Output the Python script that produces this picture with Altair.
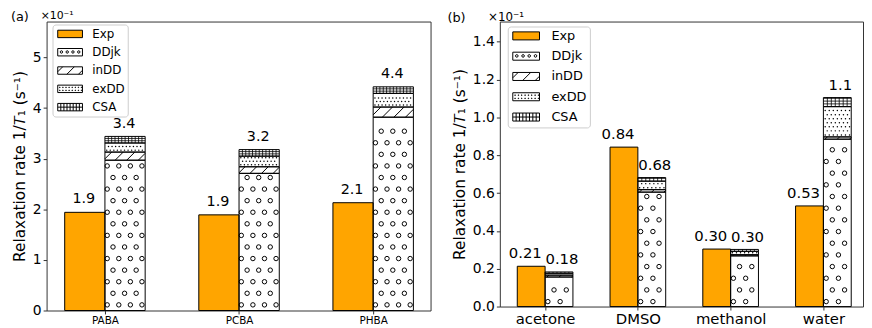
import json
import numpy as np
import pandas as pd
import altair as alt

# ---------------- data (values in units of 1e-1 s^-1) ----------------
cats_a = ["PABA", "PCBA", "PHBA"]
exp_a = [1.94, 1.89, 2.13]
ddjk_a = [2.97, 2.71, 3.82]
indd_a = [0.16, 0.13, 0.20]
exdd_a = [0.18, 0.21, 0.27]
csa_a = [0.13, 0.13, 0.13]

cats_b = ["acetone", "DMSO", "methanol", "water"]
exp_b = [0.213, 0.843, 0.304, 0.532]
ddjk_b = [0.156, 0.605, 0.268, 0.885]
indd_b = [0.010, 0.013, 0.006, 0.012]
exdd_b = [0.010, 0.045, 0.018, 0.160]
csa_b = [0.007, 0.019, 0.010, 0.048]

series = ["Exp", "DDjk", "inDD", "exDD", "CSA"]
yticks_a = [0, 1, 2, 3, 4, 5]
yticks_b = [0.0, 0.2, 0.4, 0.6, 0.8, 1.0, 1.2, 1.4]

FONT = "DejaVu Sans"
ORANGE = "#FFA500"
YTITLE = "Relaxation rate 1/\U0001D447\u2081 (s\u207b\u00b9)"

# ---------------- legend swatch paths ----------------
F = 2.25  # swatch half-width in symbol units
HH = 0.3


def p(v):
    return f"{v * F:.3f}"


def circle_path(x, y, r):
    return f"M{p(x - r)},{p(y)}a{p(r)},{p(r)} 0 1,0 {p(2 * r)},0a{p(r)},{p(r)} 0 1,0 {p(-2 * r)},0"


RECT = f"M{p(-1)},{p(-HH)}H{p(1)}V{p(HH)}H{p(-1)}Z"
PATHS = [
    RECT,
    RECT + "".join(circle_path(x, -0.02, 0.1) for x in (-0.7, -0.23, 0.23, 0.7)),
    RECT + f"M{p(-1)},{p(0.1)}L{p(-0.6)},{p(-0.3)}M{p(-0.26)},{p(0.3)}L{p(0.34)},{p(-0.3)}"
           f"M{p(0.68)},{p(0.3)}L{p(1)},{p(-0.02)}",
    RECT + "".join(f"M{p(x)},{p(y)}h{p(0.04)}v{p(0.04)}h{p(-0.04)}Z" for y in (-0.14, 0.1)
                   for x in (-0.85, -0.6, -0.35, -0.1, 0.15, 0.4, 0.65, 0.9)),
    RECT + "".join(f"M{p(x)},{p(-HH)}V{p(HH)}" for x in (-0.75, -0.5, -0.25, 0.0, 0.25, 0.5, 0.75))
    + f"M{p(-1)},0H{p(1)}",
]
FILLS = [ORANGE, "white", "white", "white", "white"]


def build_rects(exp, ddjk, indd, exdd, csa):
    rects = []
    for i in range(len(exp)):
        rects.append(dict(series="Exp", x=i - 0.3, x2=i, y=0.0, y2=exp[i], color=ORANGE))
        base = 0.0
        for s, v in zip(series[1:], [ddjk[i], indd[i], exdd[i], csa[i]]):
            rects.append(dict(series=s, x=i, x2=i + 0.3, y=base, y2=base + v, color="white"))
            base += v
    return rects


def hatch_data(rects, kx, ky, st):
    circ, dots, segs = [], [], []
    for r in rects:
        L, R = r["x"] * kx, r["x2"] * kx
        B, T = r["y"] * ky, r["y2"] * ky
        w, h = R - L, T - B
        s = r["series"]
        if s == "DDjk":
            sx, sy, rad = st["csx"], st["csy"], st["crad"]
            k = 0
            while B + st["cy0"] + k * sy <= T - rad - 0.5:
                yc = B + st["cy0"] + k * sy
                xc = L + st["cx0"] + (k % 2) * sx / 2
                while xc <= R - rad + 0.5:
                    circ.append({"x": xc / kx, "y": yc / ky})
                    xc += sx
                k += 1
        elif s == "inDD":
            sp = st["lsp"]
            c = st["lx0"] - h / 2
            while c > -h:
                c -= sp
            while c < w:
                t0, t1 = max(0.0, -c), min(h, w - c)
                if t1 > t0:
                    segs.append({"x": (L + c + t0) / kx, "y": (B + t0) / ky,
                                 "x2": (L + c + t1) / kx, "y2": (B + t1) / ky, "sw": 1.0})
                c += sp
        elif s == "exDD":
            d = st["dsp"]
            k = 0
            while B + 2 + k * d <= T - 1.2:
                yc = B + 2 + k * d
                xc = L + 1.8 + (k % 2) * d / 2
                while xc <= R - 1.2:
                    dots.append({"x": xc / kx, "y": yc / ky})
                    xc += d
                k += 1
        elif s == "CSA":
            gx, gy = st["gsx"], st["gsy"]
            xc = L + gx
            while xc < R - 0.6:
                segs.append({"x": xc / kx, "y": B / ky, "x2": xc / kx, "y2": T / ky, "sw": 0.8})
                xc += gx
            yc = B + gy
            while yc < T - 0.6:
                segs.append({"x": L / kx, "y": yc / ky, "x2": R / kx, "y2": yc / ky, "sw": 0.8})
                yc += gy
    return pd.DataFrame(circ), pd.DataFrame(dots), pd.DataFrame(segs)


def build_panel(cats, exp, ddjk, indd, exdd, csa, yticks, st):
    W, H, xdom, ydom = st["W"], st["H"], st["xdom"], st["ydom"]
    kx = W / (xdom[1] - xdom[0])
    ky = H / (ydom[1] - ydom[0])
    n = len(cats)
    rects = build_rects(exp, ddjk, indd, exdd, csa)
    rect_df = pd.DataFrame(rects)
    circ_df, dot_df, seg_df = hatch_data(rects, kx, ky, st)

    X = alt.X("x:Q", scale=alt.Scale(domain=xdom, nice=False, zero=False),
              axis=alt.Axis(values=list(range(n)), labelExpr=f"{json.dumps(cats)}[datum.value]",
                            title=None, grid=False, domain=False, ticks=True, tickSize=3.5,
                            tickColor="#333", labelFont=FONT, labelFontSize=st["xfs"],
                            labelColor="black", labelPadding=2))
    Y = alt.Y("y:Q", scale=alt.Scale(domain=ydom, nice=False, zero=True),
              axis=alt.Axis(values=yticks, format=st["yfmt"], title=YTITLE, grid=False,
                            domain=False, ticks=True, tickSize=3.5, tickColor="#333",
                            labelFont=FONT, labelFontSize=st["yfs"], labelColor="black",
                            labelPadding=2, titleFont=FONT, titleFontSize=st["tfs"],
                            titleFontWeight="normal", titleColor="black",
                            titlePadding=st["tpad"]))

    base_rect = alt.Chart(rect_df).mark_rect(strokeWidth=0).encode(
        x=X, x2="x2:Q", y=Y, y2="y2:Q", fill=alt.Fill("color:N", scale=None))

    rules = alt.Chart(seg_df).mark_rule(color="black").encode(
        x=X, y=Y, x2="x2:Q", y2="y2:Q", strokeWidth=alt.StrokeWidth("sw:Q", scale=None))

    circles = alt.Chart(circ_df).mark_point(shape="circle", filled=False, color="black",
                                            size=st["csize"], strokeWidth=1, opacity=1).encode(x=X, y=Y)

    dots = alt.Chart(dot_df).mark_circle(color="black", size=st["dsize"], opacity=1).encode(x=X, y=Y)

    outline = alt.Chart(rect_df).mark_rect(fillOpacity=0, stroke="black", strokeWidth=1).encode(
        x=X, x2="x2:Q", y=Y, y2="y2:Q")

    lab_exp = pd.DataFrame({"x": [i - 0.15 for i in range(n)], "y": exp, "v": exp})
    tot = [ddjk[i] + indd[i] + exdd[i] + csa[i] for i in range(n)]
    lab_stk = pd.DataFrame({"x": [i + 0.15 for i in range(n)], "y": tot, "v": tot})
    t1 = alt.Chart(lab_exp).mark_text(baseline="bottom", dy=st["ldy"], dx=st["ldx_e"], font=FONT,
                                      fontSize=st["lfs"], color="black").encode(
        x=X, y=Y, text=alt.Text("v:Q", format=".2g"))
    t2 = alt.Chart(lab_stk).mark_text(baseline="bottom", dy=st["ldy"], dx=st["ldx_s"], font=FONT,
                                      fontSize=st["lfs"], color="black").encode(
        x=X, y=Y, text=alt.Text("v:Q", format=".2g"))

    leg = alt.Legend(title=None, orient="none", legendX=st["lgx"], legendY=st["lgy"],
                     symbolSize=st["nom"] ** 2, symbolStrokeWidth=1, symbolStrokeColor="black",
                     symbolOffset=st["symoff"],
                     labelFont=FONT, labelFontSize=st["lgfs"], labelColor="black",
                     labelOffset=st["lgoff"], rowPadding=st["lgrow"], padding=st["lgpad"],
                     strokeColor="#cccccc", fillColor="white", cornerRadius=3, symbolOpacity=1)
    leg_df = pd.DataFrame({"series": series, "x": [xdom[0] - 1.0] * 5, "y": [0.0] * 5})
    legend_layer = alt.Chart(leg_df).mark_point(clip=True, filled=True, strokeWidth=1).encode(
        x=X, y=Y,
        fill=alt.Fill("series:N", scale=alt.Scale(domain=series, range=FILLS), legend=leg),
        shape=alt.Shape("series:N", scale=alt.Scale(domain=series, range=PATHS), legend=leg),
        stroke=alt.Stroke("series:N", scale=alt.Scale(domain=series, range=["black"] * 5), legend=leg),
    )

    ann = alt.Chart(pd.DataFrame({"t": [st["tag"]]})).mark_text(
        align="left", baseline="alphabetic", font=FONT, fontSize=st["tagfs"], color="black").encode(
        text="t:N", x=alt.value(st["tagx"]), y=alt.value(st["tagy"]))
    mult = alt.Chart(pd.DataFrame({"t": ["\u00d710\u207b\u00b9"]})).mark_text(
        align="left", baseline="alphabetic", font=FONT, fontSize=st["mfs"], color="black").encode(
        text="t:N", x=alt.value(st["mx"]), y=alt.value(st["my"]))

    return alt.layer(base_rect, rules, circles, dots, outline, t1, t2, legend_layer, ann, mult).properties(
        width=W, height=H)


NOM_A, NOM_B = 25 / F, 27 / F
PAD = 3
SOFF_A, SOFF_B = 12.5 - NOM_A / 2 + (4.3 - PAD), 13.5 - NOM_B / 2 + (4.6 - PAD)
st_a = dict(W=388, H=292, xdom=[-0.435, 2.428], ydom=[0, 5.71], yfmt="d",
            xfs=10.5, yfs=14, tfs=15.5, tpad=5,
            csx=11.7, csy=11.7, crad=2.5, cx0=2.3, cy0=5.7, csize=20,
            lsp=11.7, lx0=2.7, dsp=3.6, dsize=2.2, gsx=3.4, gsy=2.3,
            lfs=14.5, ldy=-6, ldx_e=-1, ldx_s=-1,
            lgx=6, lgy=3, nom=NOM_A, symoff=SOFF_A, lgfs=12,
            lgoff=34 + (4.3 - PAD) - NOM_A - SOFF_A,
            lgrow=5.5, lgpad=PAD,
            tag="(a)", tagfs=13, tagx=-36, tagy=-1, mfs=11, mx=-6, my=-2.5)
st_b = dict(W=367, H=288, xdom=[-0.488, 3.427], ydom=[0, 1.507], yfmt=".1f",
            xfs=15, yfs=14, tfs=15.5, tpad=5,
            csx=12.4, csy=11.8, crad=2.5, cx0=2.8, cy0=5.0, csize=20,
            lsp=12.4, lx0=2.8, dsp=4.1, dsize=2.2, gsx=4.0, gsy=2.8,
            lfs=15, ldy=-5, ldx_e=-6, ldx_s=3,
            lgx=8, lgy=5, nom=NOM_B, symoff=SOFF_B, lgfs=13,
            lgoff=38.5 + (4.6 - PAD) - NOM_B - SOFF_B,
            lgrow=6.5, lgpad=PAD,
            tag="(b)", tagfs=13, tagx=-53, tagy=0.7, mfs=12, mx=-12, my=-0.8)

pa = build_panel(cats_a, exp_a, ddjk_a, indd_a, exdd_a, csa_a, yticks_a, st_a)
pb = build_panel(cats_b, exp_b, ddjk_b, indd_b, exdd_b, csa_b, yticks_b, st_b)

chart = alt.hconcat(pa, pb, spacing=15).resolve_scale(
    x="independent", y="independent", fill="independent", shape="independent", stroke="independent"
).resolve_legend(fill="independent", shape="independent", stroke="independent").properties(
    padding={"left": 2, "top": 0, "right": 0, "bottom": 0}
).configure_view(stroke="#333", strokeWidth=1)

chart.save("out.html", embed_options={"renderer": "svg", "actions": False})
